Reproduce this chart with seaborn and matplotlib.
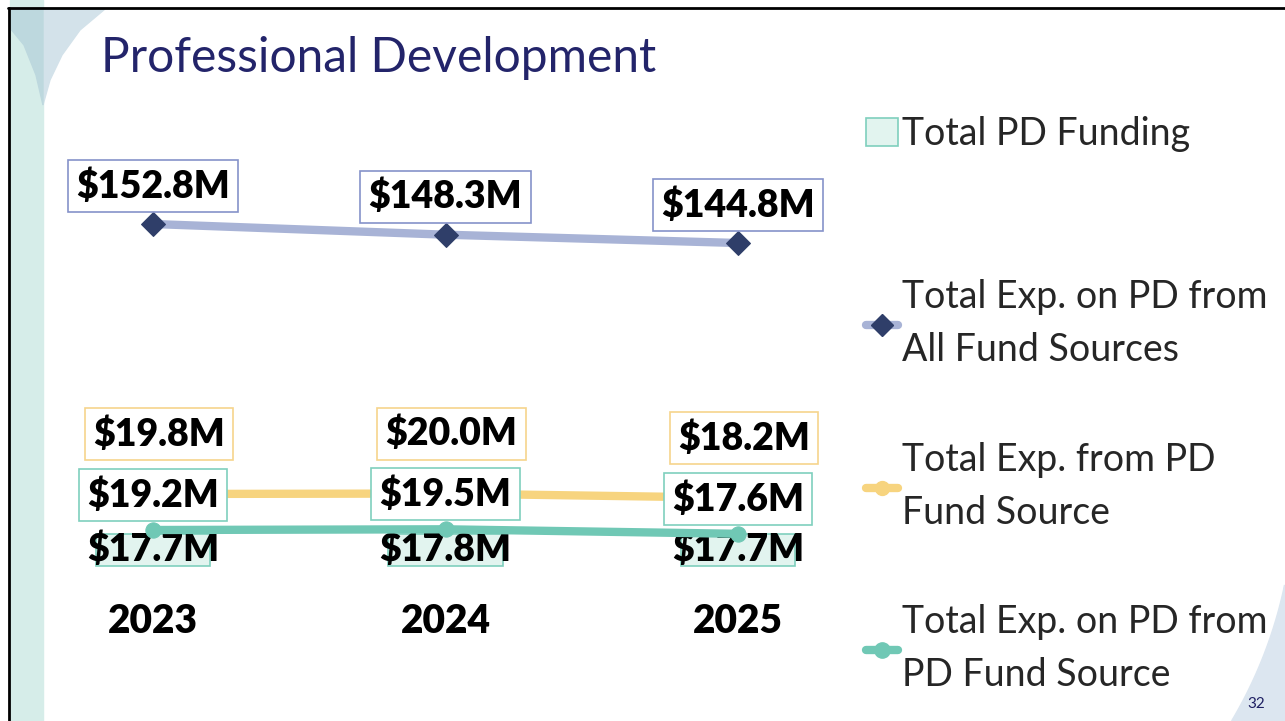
import numpy as np
import pandas as pd
import seaborn as sns
import matplotlib.pyplot as plt
from matplotlib.lines import Line2D
from matplotlib.patches import Patch, Rectangle, Polygon

# values
years = ['2023', '2024', '2025']
total_pd_funding = [17.7, 17.8, 17.7]
exp_all_sources = [152.8, 148.3, 144.8]
exp_from_pd_source = [19.8, 20.0, 18.2]
exp_on_pd_from_pd_source = [19.2, 19.5, 17.6]

legend_labels = ['Total PD Funding',
                 'Total Exp. on PD from\nAll Fund Sources',
                 'Total Exp. from PD\nFund Source',
                 'Total Exp. on PD from\nPD Fund Source']

df = pd.DataFrame({'pos': np.arange(len(years)), 'year': years,
                   'funding': total_pd_funding, 'all_src': exp_all_sources,
                   'from_pd': exp_from_pd_source, 'on_pd': exp_on_pd_from_pd_source})

# colours
navy = '#2F3E69'
blue_line = '#A8B3D6'
blue_edge = '#8592C9'
yellow = '#F7D47F'
yellow_edge = '#F6D48C'
teal = '#70C8B5'
teal_edge = '#7FCFBD'
bar_fill = '#E2F4EF'

sns.set_theme(style='white')
plt.rcParams['font.family'] = ['Lato', 'DejaVu Sans']

W, H = 1285, 721
fig = plt.figure(figsize=(W / 100, H / 100), dpi=100)

# slide decoration (behind everything)
def fx(px):
    return px / W

def fy(py):
    return 1 - py / H

def deco(pts, color):
    fig.patches.append(Polygon([(fx(a), fy(b)) for a, b in pts], closed=True,
                               transform=fig.transFigure, color=color, zorder=-5))

fig.patches.append(Rectangle((fx(10), 0), fx(33), 1, transform=fig.transFigure,
                             color='#D6EDE9', zorder=-5))
deco([[10, 9], [105, 9], [80, 30], [62, 55], [50, 80], [43, 105], [43, 9]], '#D3E2EA')
deco([[10, 9], [43, 9], [43, 105], [36, 75], [24, 45], [10, 28]], '#BDD8DE')
# bottom right corner: outside of a large circle
t = np.linspace(0, 1, 40)
cx, cy, r = 850, 494, 444
a0 = np.arctan2(585 - cy, 1285 - cx)
a1 = np.arctan2(721 - cy, 1232 - cx)
arc = [[cx + r * np.cos(a0 + (a1 - a0) * s), cy + r * np.sin(a0 + (a1 - a0) * s)] for s in t]
deco(arc + [[1285, 721]], '#DCE6F0')
fig.add_artist(Line2D([fx(8), 1], [fy(8), fy(8)], color='black', lw=2))
fig.add_artist(Line2D([fx(9), fx(9)], [fy(8), 0], color='black', lw=2))

fig.text(fx(101), fy(58), 'Professional Development', fontsize=34.5, fontweight='normal',
         color='#23246A', va='center', ha='left')
fig.text(fx(1256), fy(704), '32', fontsize=11, color='#1F2063', va='center', ha='center')

# plot area
rect = [fx(60), 1 - 600 / H, 800 / W, 460 / H]
ax_bar = fig.add_axes(rect)
ax_all = ax_bar.twinx()
ax_from = ax_bar.twinx()
ax_on = ax_bar.twinx()

sns.barplot(data=df, x='pos', y='funding', ax=ax_bar, native_scale=True, width=0.39,
            color=bar_fill, edgecolor=teal_edge, linewidth=1.2, saturation=1)
sns.lineplot(data=df, x='pos', y='all_src', ax=ax_all, color=blue_line, lw=6,
             marker='D', markersize=12, markerfacecolor=navy, markeredgecolor=navy,
             legend=False)
sns.lineplot(data=df, x='pos', y='from_pd', ax=ax_from, color=yellow, lw=6,
             marker='o', markersize=10, markeredgecolor=yellow, legend=False)
sns.lineplot(data=df, x='pos', y='on_pd', ax=ax_on, color=teal, lw=6,
             marker='o', markersize=11, markeredgecolor=teal, legend=False)

ax_bar.set_ylim(-18.8, 235.6)
ax_all.set_ylim(-5.51, 188.17)
ax_from.set_ylim(-24.83, 168.85)
ax_on.set_ylim(-10.27, 183.41)
ax_bar.set_xlim(-0.318, 2.417)

for a in (ax_bar, ax_all, ax_from, ax_on):
    for s in a.spines.values():
        s.set_visible(False)
    a.set_yticks([])
    a.set_ylabel('')
    a.set_xlabel('')
    a.patch.set_visible(False)

ax_bar.set_xticks(df['pos'])
ax_bar.set_xticklabels(years, fontsize=28, fontweight='heavy', color='black')
ax_bar.tick_params(axis='x', length=0, pad=2)

def label(ax, xs, vals, dy_px, edge, fill='white', dx_px=0):
    for x, v in zip(xs, vals):
        ax.annotate(f'${v:.1f}M', xy=(x, v), xytext=(dx_px * 0.72, dy_px * 0.72),
                    textcoords='offset points', ha='center', va='center',
                    fontsize=27, fontweight='heavy', color='black', zorder=10,
                    annotation_clip=False,
                    bbox=dict(boxstyle='square,pad=0.22', fc=fill, ec=edge, lw=1.2))

label(ax_all, df['pos'], exp_all_sources, 38, blue_edge)
label(ax_from, df['pos'], exp_from_pd_source, 60, yellow_edge, dx_px=6)
label(ax_on, df['pos'], exp_on_pd_from_pd_source, 35, teal_edge)
for x, v in zip(df['pos'], total_pd_funding):
    ax_bar.annotate(f'${v:.1f}M', xy=(x, v), xytext=(0, -15 * 0.72),
                    textcoords='offset points', ha='center', va='center',
                    fontsize=27, fontweight='heavy', color='black', zorder=10,
                    annotation_clip=False)

# legends
h_bar = Patch(facecolor=bar_fill, edgecolor=teal_edge, lw=1.2)
h_all = Line2D([], [], color=blue_line, lw=6, marker='D', markersize=11,
               markerfacecolor=navy, markeredgecolor=navy)
h_from = Line2D([], [], color=yellow, lw=6, marker='o', markersize=10)
h_on = Line2D([], [], color=teal, lw=6, marker='o', markersize=11)

leg1 = fig.legend([h_bar], legend_labels[:1], loc='center left',
                  bbox_to_anchor=(fx(866), fy(134)), frameon=False, fontsize=27,
                  handlelength=0.85, handleheight=0.75, handletextpad=0.1, borderpad=0,
                  borderaxespad=0)
leg2 = fig.legend([h_all, h_from, h_on], legend_labels[1:], loc='upper left',
                  bbox_to_anchor=(fx(866), fy(279)), frameon=False, fontsize=27,
                  handlelength=0.85, handletextpad=0.1, borderpad=0, borderaxespad=0,
                  labelspacing=1.95)
for t_ in leg2.get_texts():
    t_.set_linespacing(1.6)

fig.savefig('out.png', dpi=100)
